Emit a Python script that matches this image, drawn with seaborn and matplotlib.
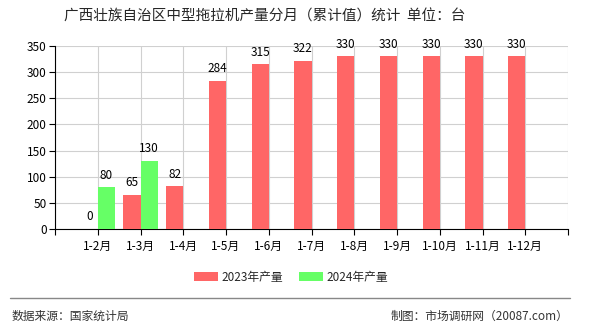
import matplotlib
matplotlib.use("Agg")
import matplotlib.pyplot as plt
import seaborn as sns
import pandas as pd
import numpy as np
from matplotlib.patches import Patch
from matplotlib.lines import Line2D

categories = ["1-2月", "1-3月", "1-4月", "1-5月", "1-6月", "1-7月", "1-8月", "1-9月", "1-10月", "1-11月", "1-12月"]
values_2023 = [0, 65, 82, 284, 315, 322, 330, 330, 330, 330, 330]
values_2024 = [80, 130, None, None, None, None, None, None, None, None, None]
series_names = ["2023年产量", "2024年产量"]
colors = ["#ff6666", "#66ff66"]
yticks = [0, 50, 100, 150, 200, 250, 300, 350]

sns.set_theme(style="white")
plt.rcParams['font.family'] = ['Noto Sans CJK SC', 'DejaVu Sans']
plt.rcParams['axes.unicode_minus'] = False

rows = []
for c, a, b in zip(categories, values_2023, values_2024):
    rows.append({"cat": c, "series": series_names[0], "val": a})
    rows.append({"cat": c, "series": series_names[1], "val": np.nan if b is None else b})
df = pd.DataFrame(rows)

fig = plt.figure(figsize=(5.9, 3.3), dpi=100)
ax = fig.add_axes([55/590, 1-229/330, (568-55)/590, (229-46)/330])

sns.barplot(data=df, x="cat", y="val", hue="series", order=categories,
            hue_order=series_names, palette=colors, width=0.8, ax=ax,
            legend=False, saturation=1, zorder=3, linewidth=0)

n = len(categories)
ax.set_xlim(-1, n)
ax.set_ylim(0, 350)
ax.set_yticks(yticks)
ax.set_xticks(range(-1, n + 1))
ax.set_xticklabels([""] + categories + [""])
ax.set_xlabel("")
ax.set_ylabel("")
ax.grid(True, color="#d0d0d0", linewidth=0.8, zorder=0)
ax.set_axisbelow(True)
for s in ["top", "right"]:
    ax.spines[s].set_visible(False)
for s in ["left", "bottom"]:
    ax.spines[s].set_color("black")
    ax.spines[s].set_linewidth(0.8)
ax.tick_params(axis="both", labelsize=8.5, colors="black", length=4, width=0.8,
               direction="out", bottom=True, left=True, pad=2)
ax.tick_params(axis="x", pad=4)

for p in ax.patches:
    if p is None:
        continue
    h = p.get_height()
    if h is None or not np.isfinite(h):
        continue
    cx = p.get_x() + p.get_width() / 2
    ax.annotate(str(int(round(h))), (cx, h), xytext=(0, 4), textcoords="offset points",
                ha="center", va="bottom", fontsize=8.5, color="black")

fig.text(265/590, 1-17/330, "广西壮族自治区中型拖拉机产量分月（累计值）统计  单位：台",
         ha="center", va="center", fontsize=10.5)

handles = [Patch(facecolor=colors[0], edgecolor="none"), Patch(facecolor=colors[1], edgecolor="none")]
fig.legend(handles, series_names, loc="center", bbox_to_anchor=(291/590, 1-277/330),
           ncol=2, frameon=False, fontsize=8.5, handlelength=2.0, handleheight=0.8,
           columnspacing=1.4, handletextpad=0.3)

fig.add_artist(Line2D([10/590, 570/590], [1-298/330, 1-298/330], color="#888888", linewidth=1.0))
fig.text(12/590, 1-316/330, "数据来源：国家统计局", fontsize=8.5, va="center", ha="left", color="#333333")
fig.text(568/590, 1-316/330, "制图：市场调研网（20087.com）", fontsize=8.5, va="center", ha="right", color="#333333")

fig.savefig("out.png", dpi=100)
